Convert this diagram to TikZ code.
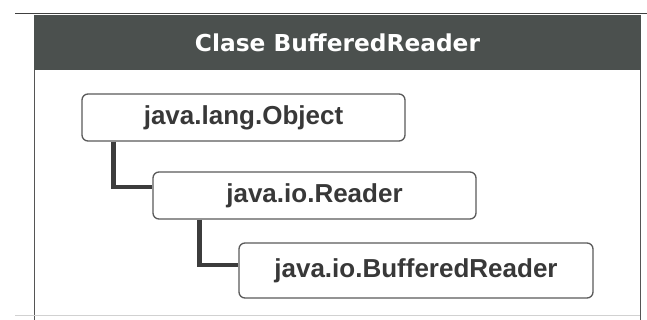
\documentclass[tikz,border=0pt]{standalone}
\usepackage{fontspec}
\setmainfont{Liberation Sans}
\newfontfamily\titlefont{DejaVu Sans}
\usetikzlibrary{calc}
\definecolor{headbg}{HTML}{4B504E}
\definecolor{frameline}{HTML}{555555}
\definecolor{boxline}{HTML}{5A5A5A}
\definecolor{boxtext}{HTML}{383838}
\definecolor{connline}{HTML}{3C3C3C}
\tikzset{
  classbox/.style={draw=boxline, line width=1.3pt, rounded corners=6pt, fill=white,
    text=boxtext, font=\fontsize{26}{30}\selectfont\bfseries, inner sep=0pt},
  conn/.style={draw=connline, line width=4.5pt},
  frame/.style={draw=frameline, line width=1pt},
}
\begin{document}
\begin{tikzpicture}[x=1pt, y=-1pt]
\useasboundingbox (0,0) rectangle (647,320);
\fill[white] (0,0) rectangle (647,320);

% panel outline
\draw[frame, draw=black!75] (15,14) -- (647,14);
\draw[frame] (34,70) -- (34,320);
\draw[frame] (640,70) -- (640,320);
\draw[draw=black!18, line width=0.8pt] (15,315.5) -- (640,315.5);

% header bar with the title
\node[fill=headbg, minimum width=607pt, minimum height=55pt, inner sep=0pt,
      text=white, font=\titlefont\fontsize{23.3}{28}\selectfont\bfseries]
  (title) at (337.5,42.5) {Clase BufferedReader};

% class hierarchy
\node[classbox, minimum width=323pt, minimum height=47pt] (obj) at (243.5,117.5) {java.lang.Object};
\node[classbox, minimum width=323pt, minimum height=47pt] (rdr) at (314.5,195.5) {java.io.Reader};
\node[classbox, minimum width=354pt, minimum height=55pt] (bfr) at (416,270.5) {java.io.BufferedReader};

\draw[conn] ($(obj.south west)+(32,0)$) |- ($(rdr.west)+(0,-8.5)$);
\draw[conn] ($(rdr.south west)+(47,0)$) |- ($(bfr.west)+(0,-5.5)$);
\end{tikzpicture}
\end{document}
